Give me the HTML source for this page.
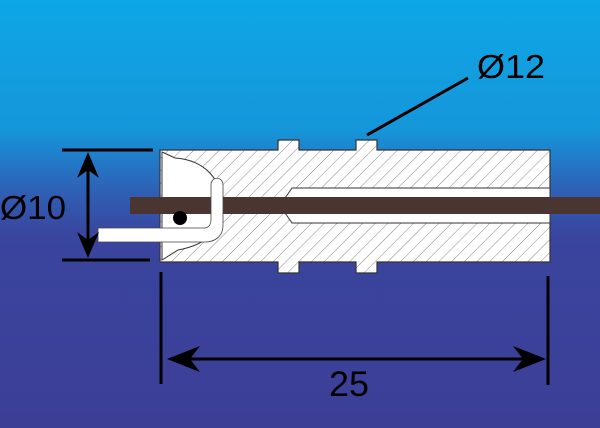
<!DOCTYPE html>
<html><head><style>html,body{margin:0;padding:0;width:600px;height:428px;overflow:hidden}svg{display:block}</style></head>
<body>
<svg width="600" height="428" viewBox="0 0 600 428" xmlns="http://www.w3.org/2000/svg">
<defs>
<linearGradient id="bg" x1="0" y1="0" x2="0" y2="1">
<stop offset="0" stop-color="#0ea6e6"/>
<stop offset="0.3" stop-color="#1597da"/>
<stop offset="0.36" stop-color="#1f80cc"/>
<stop offset="0.45" stop-color="#2f5fb4"/>
<stop offset="0.55" stop-color="#3a459e"/>
<stop offset="1" stop-color="#3c3e96"/>
</linearGradient>
<pattern id="hatch" width="9" height="9" patternUnits="userSpaceOnUse" patternTransform="rotate(45)">
<rect width="9" height="9" fill="#fff"/>
<line x1="0" y1="0" x2="0" y2="9" stroke="#888" stroke-width="1"/>
</pattern>
</defs>
<rect width="600" height="428" fill="url(#bg)"/>
<g stroke="#333" stroke-width="1.2" fill="url(#hatch)">
<path d="M160,150 H278 V140 H299 V150 H356 V140 H377 V150 H550 V262 H377 V273 H356 V262 H299 V273 H278 V262 H160 Z"/>
</g>
<path d="M292,188 H550 V223 H292 L283,210 V201 Z" fill="#fff" stroke="#333" stroke-width="1"/>
<path d="M162,152 L175,158 C205,160 222,180 222,205 C222,232 205,245 178,250 L162,260 Z" fill="#fff" stroke="#333" stroke-width="1"/>
<rect x="130" y="197" width="470" height="17" fill="#4a3530"/>
<path d="M98,228 H204 C209,228 211,224 211,219 V185 C211,176 223,176 223,185 V225 C223,238 213,242 205,242 H98 Z" fill="#fff" stroke="#444" stroke-width="0.8"/>
<circle cx="180" cy="218" r="7" fill="#000"/>
<g stroke="#000" stroke-width="3">
<line x1="62" y1="150" x2="153" y2="150"/>
<line x1="62" y1="260" x2="150" y2="260"/>
<line x1="88" y1="166" x2="88" y2="244"/>
<line x1="161" y1="272" x2="161" y2="384"/>
<line x1="548" y1="276" x2="548" y2="385"/>
<line x1="180" y1="359" x2="532" y2="359"/>
<line x1="367" y1="135" x2="468" y2="78"/>
</g>
<g fill="#000">
<polygon points="88,152 77,178 88,170 99,178"/>
<polygon points="88,258 77,232 88,240 99,232"/>
<polygon points="167,359 200,346 190,359 200,372"/>
<polygon points="546,359 513,346 523,359 513,372"/>
</g>
<g font-family="Liberation Sans, sans-serif" fill="#000">
<text x="0" y="219" font-size="33" textLength="66" lengthAdjust="spacingAndGlyphs">Ø10</text>
<text x="477" y="78" font-size="33" textLength="68" lengthAdjust="spacingAndGlyphs">Ø12</text>
<text x="329" y="396" font-size="35" textLength="40" lengthAdjust="spacingAndGlyphs">25</text>
</g>
</svg>
</body></html>
